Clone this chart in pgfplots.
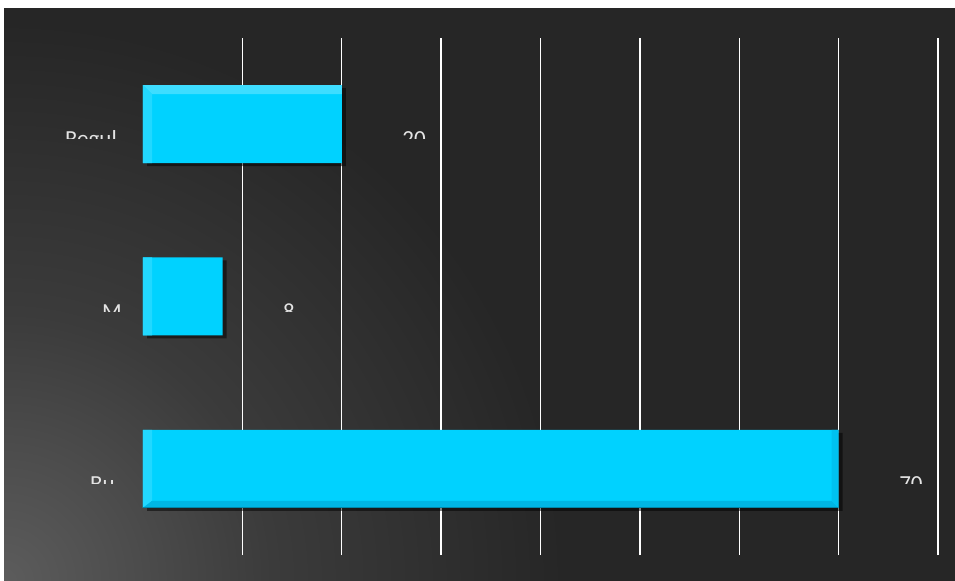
\documentclass[border=0pt]{standalone}
\usepackage{pgfplots}
\pgfplotsset{compat=1.18}
\usepackage{fontspec}
\setmainfont{Carlito}
\usepackage{trimclip}
\definecolor{bgin}{HTML}{5C5C5C}
\definecolor{bgmida}{HTML}{4C4C4C}
\definecolor{bgmid}{HTML}{3B3B3B}
\definecolor{bgout}{HTML}{262626}
\definecolor{barmain}{HTML}{00D2FF}
\definecolor{bartop}{HTML}{3EDDFF}
\definecolor{barleft}{HTML}{22D8FF}
\definecolor{barbottom}{HTML}{00B6E4}
\definecolor{barright}{HTML}{00C2F0}
\definecolor{baredge}{HTML}{0088AA}
\definecolor{labelgray}{HTML}{E4E4E4}
\pgfdeclareradialshading{bgrad}{\pgfpoint{0bp}{0bp}}{color(0bp)=(bgin); color(6bp)=(bgmida); color(12bp)=(bgmid); color(25bp)=(bgout); color(50bp)=(bgout)}
\newcommand{\cut}[1]{\clipbox{0pt 7.8bp 0pt 0pt}{\raisebox{0pt}[\height][0pt]{#1}}}
\newcommand{\ppa}[1]{\pgfpointanchor{path picture bounding box}{#1}}
\newcommand{\ppo}[3]{\pgfpointadd{\ppa{#1}}{\pgfpoint{#2}{#3}}}
\newcommand{\bevel}{%
  \pgfsetfillcolor{bartop}%
  \pgfpathmoveto{\ppa{north west}}\pgfpathlineto{\ppa{north east}}%
  \pgfpathlineto{\ppo{north east}{-7bp}{-9bp}}\pgfpathlineto{\ppo{north west}{9bp}{-9bp}}%
  \pgfpathclose\pgfusepath{fill}%
  \pgfsetfillcolor{barleft}%
  \pgfpathmoveto{\ppa{north west}}\pgfpathlineto{\ppo{north west}{9bp}{-9bp}}%
  \pgfpathlineto{\ppo{south west}{9bp}{7bp}}\pgfpathlineto{\ppa{south west}}%
  \pgfpathclose\pgfusepath{fill}%
  \pgfsetfillcolor{barbottom}%
  \pgfpathmoveto{\ppa{south west}}\pgfpathlineto{\ppo{south west}{9bp}{7bp}}%
  \pgfpathlineto{\ppo{south east}{-7bp}{7bp}}\pgfpathlineto{\ppa{south east}}%
  \pgfpathclose\pgfusepath{fill}%
  \pgfsetfillcolor{barright}%
  \pgfpathmoveto{\ppa{south east}}\pgfpathlineto{\ppo{south east}{-7bp}{7bp}}%
  \pgfpathlineto{\ppo{north east}{-7bp}{-9bp}}\pgfpathlineto{\ppa{north east}}%
  \pgfpathclose\pgfusepath{fill}%
  \pgfsetstrokecolor{baredge}\pgfsetlinewidth{2bp}%
  \pgfpathmoveto{\ppa{south west}}\pgfpathlineto{\ppa{south east}}\pgfpathlineto{\ppa{north east}}%
  \pgfusepath{stroke}%
}
\begin{document}
\begin{tikzpicture}
\useasboundingbox (0,0) rectangle (955bp,581bp);
\fill[white] (0,0) rectangle (955bp,581bp);
\begin{scope}
\clip (4bp,0) rectangle (955bp,573bp);
\fill[bgout] (4bp,0) rectangle (955bp,573bp);
\shade[shading=bgrad] (4bp,0) circle (560bp);
\end{scope}
\begin{axis}[
  at={(143bp,26bp)}, anchor=south west,
  scale only axis, width=795bp, height=517bp,
  xmin=0, xmax=80, ymin=-0.5, ymax=2.5,
  clip=false,
  xtick={10,20,...,80}, xticklabels={},
  ytick={0,1,2},
  yticklabels={{\cut{Bu\hspace{7bp}}}, {\cut{M}}, {\cut{Regul\hspace{5bp}}}},
  yticklabel style={anchor=base east, inner sep=0pt, xshift=-21bp, yshift=-14.8bp,
    text=labelgray, font=\fontsize{23bp}{27bp}\selectfont},
  xmajorgrids,
  major grid style={white, line width=1.3bp},
  axis line style={draw=none},
  major tick length=0pt,
]
\addplot[xbar, bar width=78bp, fill=black, fill opacity=0.5, draw=none,
  transform canvas={xshift=4bp, yshift=-3bp}]
  coordinates {(70,0) (8,1) (20,2)};
\addplot[xbar, bar width=78bp, fill=barmain, draw=none, path picture={\bevel}]
  coordinates {(70,0) (8,1) (20,2)};
\addplot[draw=none, mark=none, point meta=x,
  nodes near coords={\cut{\pgfmathprintnumber{\pgfplotspointmeta}}},
  /pgf/number format/assume math mode=true,
  every node near coord/.append style={anchor=base west, inner sep=0pt,
    xshift=60.5bp, yshift=-14.8bp, text=labelgray,
    font=\fontsize{23bp}{27bp}\selectfont}]
  coordinates {(70,0) (8,1) (20,2)};
\end{axis}
\end{tikzpicture}
\end{document}
